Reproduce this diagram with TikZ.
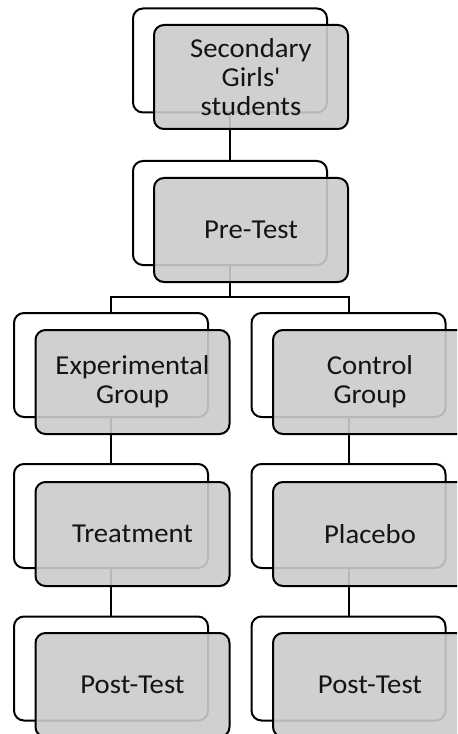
\documentclass[tikz,border=0pt]{standalone}
\usepackage{fontspec}
\setmainfont[FakeStretch=1.05]{Carlito}
\begin{document}
\begin{tikzpicture}[x=0.75pt,y=-0.75pt,
  backbox/.style={draw=black, line width=1.5pt, fill=white, rounded corners=7.5pt,
    minimum width=145.5pt, minimum height=78pt, inner sep=0pt, outer sep=0pt},
  frontbox/.style={draw=black, line width=1.5pt, fill={rgb,255:red,203;green,203;blue,203},
    fill opacity=0.9, draw opacity=1, text opacity=1, rounded corners=7.5pt,
    minimum width=145.5pt, minimum height=78pt, inner sep=0pt, outer sep=0pt,
    align=center, text={rgb,255:red,20;green,20;blue,20},
    font=\fontsize{20.5}{21.6}\selectfont},
  link/.style={draw=black, line width=1.5pt}]
\useasboundingbox (0,0) rectangle (457,734);
\clip (0,0) rectangle (457,734);
% back boxes
\node[backbox] (b1) at (230,60.5) {};
\node[backbox] (b2) at (230,213) {};
\node[backbox] (b3l) at (111,365) {};
\node[backbox] (b3r) at (348.5,365) {};
\node[backbox] (b4l) at (111,516) {};
\node[backbox] (b4r) at (348.5,516) {};
\node[backbox] (b5l) at (111,668.5) {};
\node[backbox] (b5r) at (348.5,668.5) {};
% connectors
\coordinate (split) at (230,297);
\draw[link] (b1.south) -- (b2.north);
\draw[link] (b2.south) -- (split);
\draw[link] (split) -| (b3l.north);
\draw[link] (split) -| (b3r.north);
\draw[link] (b3l.south) -- (b4l.north);
\draw[link] (b3r.south) -- (b4r.north);
\draw[link] (b4l.south) -- (b5l.north);
\draw[link] (b4r.south) -- (b5r.north);
% front boxes
\node[frontbox] (f1) at (251,77) {Secondary\\Girls\textquotesingle\\students};
\node[frontbox] (f2) at (251,230) {Pre-Test};
\node[frontbox] (f3l) at (132.5,382) {Experimental\\Group};
\node[frontbox] (f3r) at (370,382) {Control\\Group};
\node[frontbox] (f4l) at (132.5,534) {Treatment};
\node[frontbox] (f4r) at (370,534) {Placebo};
\node[frontbox] (f5l) at (132.5,685) {Post-Test};
\node[frontbox] (f5r) at (370,685) {Post-Test};
\end{tikzpicture}
\end{document}
